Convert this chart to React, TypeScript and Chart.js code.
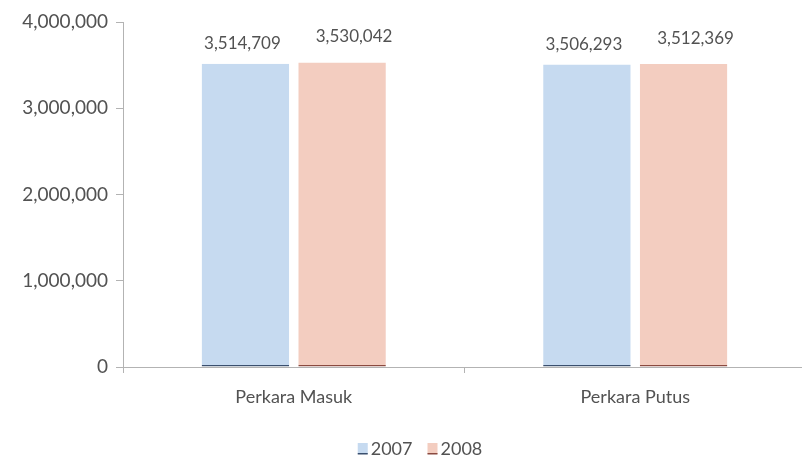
import React, { useEffect, useRef } from "react";
import { Chart, registerables } from "chart.js";

Chart.register(...registerables);

// Case counts per category, by year
const categories = ["Perkara Masuk", "Perkara Putus"];
const years = ["2007", "2008"];
const values2007 = [3514709, 3506293];
const values2008 = [3530042, 3512369];
const yTicks = [0, 1000000, 2000000, 3000000, 4000000];

const FONT = "Lato, 'Open Sans', sans-serif";
const TEXT = "#525252";
const AXIS = "#b3b3b3";
const fmt = (v: number) => v.toLocaleString("en-US");

// Value labels drawn above each bar
const valueLabels = {
  id: "valueLabels",
  afterDatasetsDraw(chart: any) {
    const ctx = chart.ctx;
    ctx.save();
    ctx.font = `17px ${FONT}`;
    ctx.fillStyle = TEXT;
    ctx.textAlign = "center";
    ctx.textBaseline = "middle";
    chart.data.datasets.forEach((ds: any, i: number) => {
      const meta = chart.getDatasetMeta(i);
      meta.data.forEach((bar: any, j: number) => {
        ctx.fillText(fmt(ds.data[j]), bar.x + ds.labelShift, bar.y - ds.labelLift);
      });
    });
    ctx.restore();
  },
};

// Legend row under the axis
const bottomLegend = {
  id: "bottomLegend",
  afterDraw(chart: any) {
    const ctx = chart.ctx;
    ctx.save();
    ctx.font = `18px ${FONT}`;
    ctx.textBaseline = "middle";
    const box = 10;
    const gap = 3;
    const spacing = 15;
    const items = chart.data.datasets.map((ds: any) => ({
      ds,
      w: box + gap + ctx.measureText(ds.label).width,
    }));
    const total = items.reduce((s: number, it: any) => s + it.w, 0) + spacing * (items.length - 1);
    let x = 420 - total / 2;
    const cy = 449;
    items.forEach((it: any) => {
      ctx.fillStyle = it.ds.backgroundColor;
      ctx.fillRect(x, cy - 6, box, 11);
      ctx.fillStyle = it.ds.borderColor;
      ctx.fillRect(x, cy + 4, box, 1.5);
      ctx.fillStyle = TEXT;
      ctx.textAlign = "left";
      ctx.fillText(it.ds.label, x + box + gap, cy);
      x += it.w + spacing;
    });
    ctx.restore();
  },
};

export default function App() {
  const ref = useRef<HTMLCanvasElement>(null);

  useEffect(() => {
    if (!ref.current) return;
    const chart = new Chart(ref.current, {
      type: "bar",
      data: {
        labels: categories,
        datasets: [
          {
            label: years[0],
            data: values2007,
            backgroundColor: "#c6daf0",
            borderColor: "#3a4f6e",
            borderWidth: { top: 0, left: 0, right: 0, bottom: 1.5 },
            borderSkipped: false,
            labelShift: -3,
            labelLift: 20,
          } as any,
          {
            label: years[1],
            data: values2008,
            backgroundColor: "#f3cdc0",
            borderColor: "#8a4a40",
            borderWidth: { top: 0, left: 0, right: 0, bottom: 1.5 },
            borderSkipped: false,
            labelShift: 12,
            labelLift: 26,
          } as any,
        ],
      },
      options: {
        responsive: false,
        animation: false,
        layout: { padding: { top: 22, right: 0, bottom: 34, left: 0 } },
        datasets: {
          bar: { categoryPercentage: 0.566, barPercentage: 0.906 },
        },
        plugins: {
          legend: { display: false },
          tooltip: { enabled: false },
        },
        scales: {
          x: {
            offset: true,
            grid: { display: true, drawOnChartArea: false, tickLength: 6, color: AXIS, offset: true },
            border: { color: AXIS },
            ticks: { color: TEXT, font: { family: FONT, size: 18 }, padding: 13 },
            afterFit(scale: any) {
              scale.height = 64;
            },
          },
          y: {
            min: 0,
            max: 4000000,
            afterBuildTicks(scale: any) {
              scale.ticks = yTicks.map((v) => ({ value: v }));
            },
            grid: { display: true, drawOnChartArea: false, tickLength: 7, color: AXIS },
            border: { color: AXIS },
            ticks: {
              color: TEXT,
              font: { family: FONT, size: 19 },
              padding: 8,
              callback: (v: any) => fmt(Number(v)),
            },
            afterFit(scale: any) {
              scale.width = 123;
            },
          },
        },
      },
      plugins: [valueLabels, bottomLegend],
    });
    return () => chart.destroy();
  }, []);

  return (
    <div
      style={{
        position: "absolute",
        left: 0,
        top: 0,
        width: 802,
        height: 465,
        overflow: "hidden",
        background: "#fff",
      }}
    >
      {/* plot runs slightly past the right edge of the frame */}
      <canvas ref={ref} width={806} height={465} />
    </div>
  );
}
